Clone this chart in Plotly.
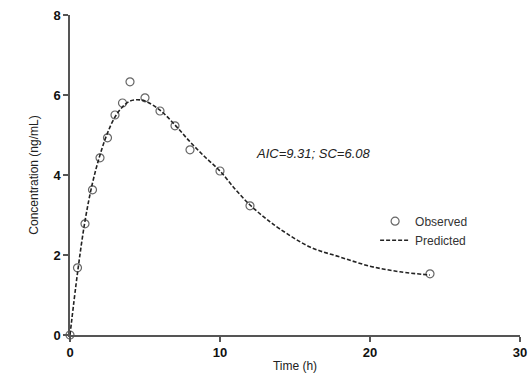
import plotly.graph_objects as go

obs_t = [0, 0.5, 1, 1.5, 2, 2.5, 3, 3.5, 4, 5, 6, 7, 8, 10, 12, 24]
obs_c = [0, 1.68, 2.78, 3.63, 4.43, 4.93, 5.5, 5.8, 6.33, 5.93, 5.6, 5.23, 4.63, 4.1, 3.23, 1.53]

pred_t = [0, 0.5, 1, 1.5, 2, 2.5, 3, 3.5, 4, 4.5, 5, 6, 7, 8, 9, 10, 11, 12, 13, 14, 16, 18, 20, 22, 24]
pred_c = [0, 1.55, 2.85, 3.8, 4.5, 5.05, 5.45, 5.7, 5.85, 5.88, 5.85, 5.62, 5.25, 4.83, 4.45, 4.1,
          3.65, 3.25, 2.93, 2.65, 2.2, 1.95, 1.72, 1.58, 1.5]

x_ticks = [0, 10, 20, 30]
y_ticks = [0, 2, 4, 6, 8]
label = "AIC=9.31; SC=6.08"

fig = go.Figure()
fig.add_trace(go.Scatter(
    x=obs_t, y=obs_c, mode="markers", name="Observed",
    marker=dict(symbol="circle-open", size=8, color="#666666", line=dict(width=1.2)),
    cliponaxis=False,
))
fig.add_trace(go.Scatter(
    x=pred_t, y=pred_c, mode="lines", name="Predicted",
    line=dict(color="#222222", width=1.6, dash="4px,2px", shape="spline"),
    cliponaxis=False,
))

fig.add_annotation(
    x=16.2, y=4.55, xref="x", yref="y", text="<i>" + label + "</i>", showarrow=False,
    font=dict(family="Liberation Sans, Arial", size=13, color="#222222"),
)

axis_common = dict(
    showgrid=False, zeroline=False, showline=True, linecolor="#555555", linewidth=1.5,
    ticks="outside", ticklen=5, tickwidth=1.5, tickcolor="#555555", automargin=False,
    ticklabeloverflow="allow",
    tickfont=dict(family="Liberation Sans, Arial", size=13, color="#111111", weight="bold"),
    title_font=dict(family="Liberation Sans, Arial", size=12, color="#222222"),
)

fig.update_layout(
    width=530, height=380,
    margin=dict(l=70, r=10, t=15, b=45),
    paper_bgcolor="white", plot_bgcolor="white",
    showlegend=True,
    legend=dict(x=0.678, y=0.326, xanchor="left", yanchor="middle",
                font=dict(family="Liberation Sans, Arial", size=12, color="#333333"),
                bgcolor="rgba(0,0,0,0)", tracegroupgap=0, itemwidth=30),
    xaxis=dict(range=[0, 30], tickvals=x_ticks, title=dict(text="Time (h)", standoff=2), **axis_common),
    yaxis=dict(range=[0, 8], tickvals=y_ticks, title=dict(text="Concentration (ng/mL)", standoff=12), **axis_common),
)

fig.write_html("out.html", config={"displayModeBar": False},
               post_script="document.body.style.margin='0';document.body.style.overflow='hidden';")
